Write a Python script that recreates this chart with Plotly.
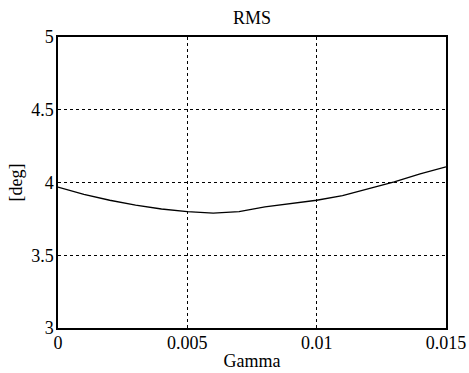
import plotly.graph_objects as go

gamma = [0, 0.001, 0.002, 0.003, 0.004, 0.005, 0.006, 0.007, 0.008,
         0.009, 0.010, 0.011, 0.012, 0.013, 0.014, 0.015]
rms = [3.968, 3.918, 3.878, 3.845, 3.818, 3.800, 3.790, 3.800, 3.833,
       3.857, 3.878, 3.910, 3.958, 4.005, 4.059, 4.108]

x_ticks = [0, 0.005, 0.01, 0.015]
x_ticktext = ["0", "0.005", "0.01", "0.015"]
y_ticks = [3, 3.5, 4, 4.5, 5]
y_ticktext = ["3", "3.5", "4", "4.5", "5"]

FONT = "Liberation Serif, Times New Roman, serif"
FS = 18

fig = go.Figure()
fig.add_trace(go.Scatter(x=gamma, y=rms, mode="lines",
                         line=dict(color="black", width=1.3),
                         showlegend=False, hoverinfo="skip"))

axis_common = dict(showline=True, linecolor="black", linewidth=1.5, mirror=True,
                   showgrid=True, gridcolor="black", gridwidth=1, griddash="3px,3px",
                   zeroline=False, ticks="", automargin=False,
                   tickfont=dict(family=FONT, size=FS, color="black"))

fig.update_xaxes(range=[0, 0.015], tickvals=x_ticks, ticktext=x_ticktext,
                 title=dict(text="Gamma", font=dict(family=FONT, size=FS, color="black"), standoff=2),
                 ticklabelstandoff=-2,
                 **axis_common)
fig.update_yaxes(range=[3, 5], tickvals=y_ticks, ticktext=y_ticktext,
                 title=dict(text="[deg]", font=dict(family=FONT, size=FS, color="black"), standoff=4),
                 ticklabelstandoff=-1,
                 **axis_common)

fig.update_layout(
    width=469, height=373,
    margin=dict(l=58, r=23, t=37, b=45),
    paper_bgcolor="white", plot_bgcolor="white",
    title=dict(text="RMS", x=(58 + 446) / 2 / 469, xanchor="center",
               y=1 - 18 / 373, yanchor="middle", yref="container",
               font=dict(family=FONT, size=FS, color="black")),
)

fig.write_html("out.html", config={"displayModeBar": False},
               post_script="document.body.style.margin='0';document.body.style.overflow='hidden';")
